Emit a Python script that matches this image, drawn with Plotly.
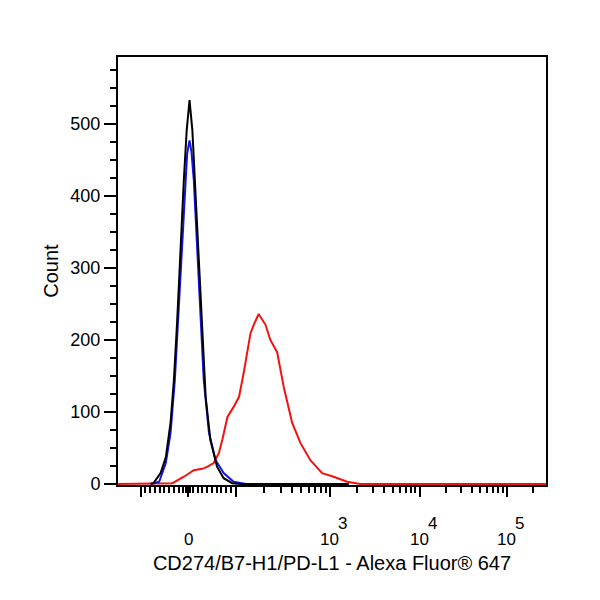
import numpy as np
import plotly.graph_objects as go

# ---- histogram data: fluorescence intensity (Alexa Fluor 647) vs. count ----
black_x = [-79, -73, -58, -47, -37, -30, -23, -16, -9, -3, 3, 9, 16, 23, 30, 37, 47, 61, 75, 93, 113, 1618]
black_y = [0, 1, 15, 37, 85, 144, 227, 329, 422, 491, 533, 491, 398, 301, 200, 121, 61, 24, 8, 1, 0, 0]

blue_x = [-79, -61, -47, -37, -28, -21, -14, -7, -2, 3, 7, 12, 19, 26, 33, 44, 58, 75, 96, 129, 1618]
blue_y = [0, 3, 29, 71, 144, 227, 320, 408, 459, 477, 462, 422, 329, 227, 144, 71, 33, 15, 3, 0, 0]

red_x = [-174, -47, -33, -9, 12, 30, 41, 54, 65, 72, 83, 96, 109, 122, 144, 156, 176, 208, 234,
         276, 324, 398, 487, 622, 828, 1102, 1554, 2186, 281800]
red_y = [0, 0, 1, 10, 19, 21, 24, 29, 43, 61, 93, 107, 121, 154, 209, 221, 236, 221, 200,
         183, 135, 85, 57, 33, 15, 10, 3, 0, 0]

# ---- axis ticks ----
x_label_vals = [0, 1000, 10000, 100000]
x_label_base = ["0", "10", "10", "10"]
x_label_exp = ["", "3", "4", "5"]
x_long_ticks = [-100, 0, 100, 1000, 10000, 100000]
x_minor = ([-90, -80, -70, -60, -50, -40, -30, -20, -10, -5, 5, 10, 20, 30, 40, 50, 60, 70, 80, 90]
           + [200, 300, 400, 500, 600, 700, 800, 900]
           + [2000, 3000, 4000, 5000, 6000, 7000, 8000, 9000]
           + [20000, 30000, 40000, 50000, 60000, 70000, 80000, 90000, 200000])
y_major = [0, 100, 200, 300, 400, 500]
y_minor = [25, 50, 75, 125, 150, 175, 225, 250, 275, 325, 350, 375, 425, 450, 475, 525, 550, 575]
y_limits = [-1.5, 593]
x_limits = [-174, 281800]

# biexponential display scale: linear for |v| <= 100, then decades of slightly varying width
LIN_SLOPE = 0.475
DECADE_LOG = [0, 1, 2, 3, 4]
DECADE_POS = [0, 94.5, 184.3, 271.7, 359.1]


def biex(v):
    v = np.asarray(v, dtype=float)
    a = np.abs(v)
    lin = LIN_SLOPE * a
    logpart = 100 * LIN_SLOPE + np.interp(np.log10(np.maximum(a, 100) / 100.0), DECADE_LOG, DECADE_POS)
    return np.sign(v) * np.where(a <= 100, lin, logpart)


FONT = "Arial, Liberation Sans, sans-serif"

fig = go.Figure()
fig.add_trace(go.Scatter(x=biex(red_x), y=red_y, mode="lines",
                         line=dict(color="#f21212", width=2), name="PD-L1"))
fig.add_trace(go.Scatter(x=biex(blue_x), y=blue_y, mode="lines",
                         line=dict(color="#1414e6", width=2), name="Isotype"))
fig.add_trace(go.Scatter(x=biex(black_x), y=black_y, mode="lines",
                         line=dict(color="black", width=2), name="Unstained"))

# decade tick labels: base ("0" / "10") centred on the tick, full-size exponent to its upper right
for val, base, exp in zip(x_label_vals, x_label_base, x_label_exp):
    xd = float(biex(val))
    fig.add_annotation(x=xd, xref="x", y=0, yref="paper", text=base, showarrow=False,
                       xanchor="center", yanchor="middle", yshift=-54,
                       font=dict(size=17, family=FONT, color="black"))
    if exp:
        fig.add_annotation(x=xd, xref="x", y=0, yref="paper", text=exp, showarrow=False,
                           xanchor="left", yanchor="middle", xshift=6, yshift=-38,
                           font=dict(size=17, family=FONT, color="black"))

fig.update_layout(
    width=600, height=600,
    margin=dict(l=110, r=62, t=49, b=123, autoexpand=False),
    plot_bgcolor="white", paper_bgcolor="white",
    showlegend=False,
    font=dict(family=FONT, color="black", size=18),
    xaxis=dict(
        range=[float(biex(x_limits[0])), float(biex(x_limits[1]))], tickmode="array",
        tickvals=biex(x_long_ticks), showticklabels=False,
        ticks="outside", ticklen=10, tickwidth=2, tickcolor="black",
        showline=True, linewidth=2, linecolor="black", mirror=True,
        showgrid=False, zeroline=False, layer="below traces",
        minor=dict(tickmode="array", tickvals=biex(x_minor), ticks="outside",
                   ticklen=6, tickwidth=1.5, tickcolor="black", showgrid=False),
        title=dict(text="CD274/B7-H1/PD-L1 - Alexa Fluor® 647",
                   font=dict(size=20, family=FONT), standoff=60),
        automargin=False,
    ),
    yaxis=dict(
        range=y_limits, tickmode="array", tickvals=y_major,
        ticks="outside", ticklen=12, tickwidth=2, tickcolor="black",
        showline=True, linewidth=2, linecolor="black", mirror=True,
        showgrid=False, zeroline=False, layer="below traces",
        tickfont=dict(size=18, family=FONT), ticklabelstandoff=0,
        minor=dict(tickmode="array", tickvals=y_minor, ticks="outside",
                   ticklen=6, tickwidth=1.5, tickcolor="black", showgrid=False),
        title=dict(text="Count", font=dict(size=20, family=FONT), standoff=6),
        automargin=False,
    ),
)

fig.write_html("out.html")
